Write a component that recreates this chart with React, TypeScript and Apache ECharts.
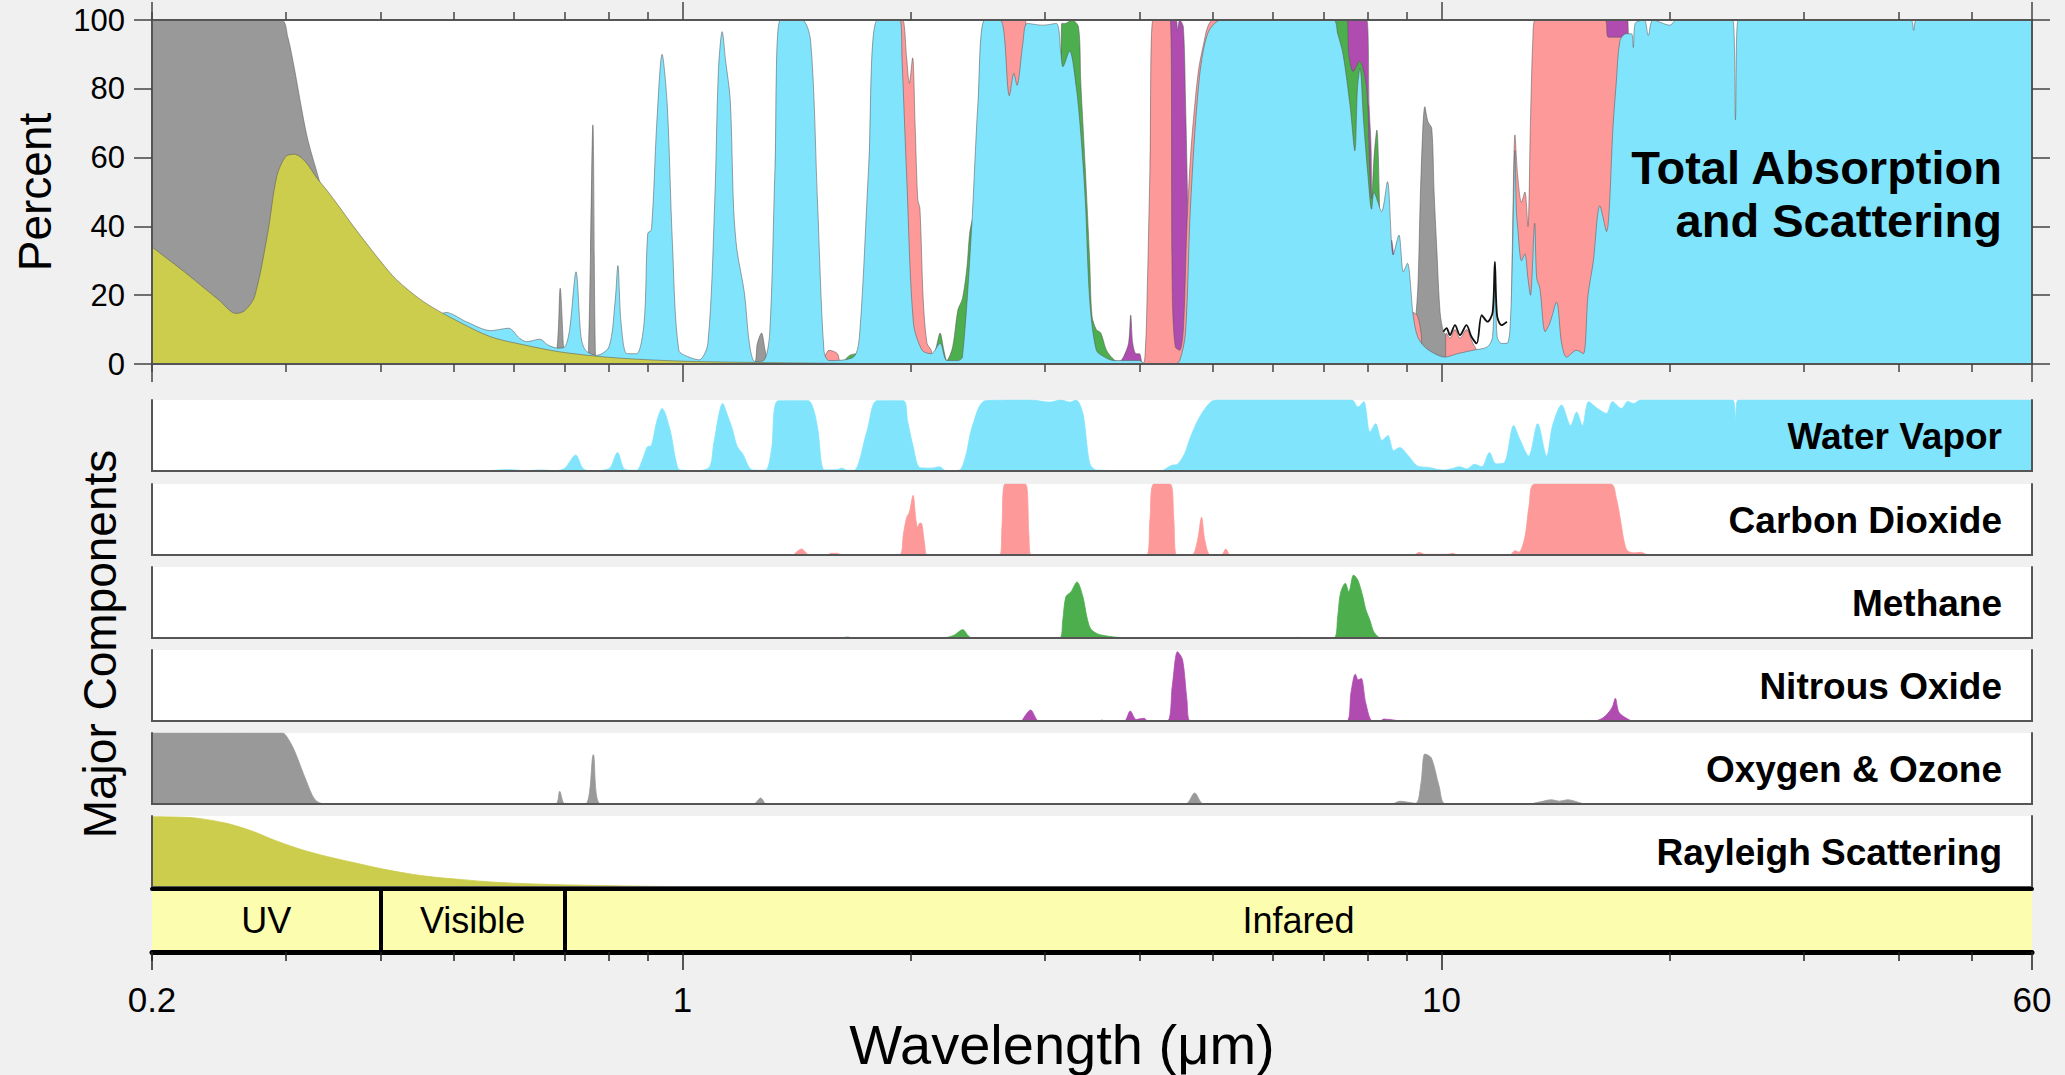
import React, { useEffect, useRef } from "react";
import * as echarts from "echarts";

type Pt = [number, number];

// ---------- axis values ----------
const X_MIN = 0.2;
const X_MAX = 60;
const minorTickValues = [0.2, 0.3, 0.4, 0.5, 0.6, 0.7, 0.8, 0.9, 2, 3, 4, 5, 6, 7, 8, 9, 20, 30, 40, 50];
const majorTickValues = [0.2, 1, 10, 60];
const tickLabelValues = [0.2, 1, 10, 60];
const percentMin = 0;
const percentMax = 100;
const percentStep = 20;

const bandEdges = [0.2, 0.4, 0.7, 60];
const bandNames = ["UV", "Visible", "Infared"];

const panelNames = ["Water Vapor", "Carbon Dioxide", "Methane", "Nitrous Oxide", "Oxygen & Ozone", "Rayleigh Scattering"];

// ---------- top panel: cumulative boundaries (wavelength µm, percent) ----------
const totalOxygenOzone: Pt[] = [[0.2,100],[0.296,100],[0.302,95],[0.308,86],[0.315,74],[0.321,65],[0.334,51.5],[0.34,44],[0.36,30],[0.4,0],[0.67,0],[0.683,4],[0.69,22],[0.697,5],[0.7,0],[0.745,0],[0.752,5],[0.762,69.5],[0.768,2],[0.775,0],[1.24,0],[1.255,6],[1.271,9],[1.285,4],[1.3,0],[9.1,0],[9.27,16],[9.32,25],[9.4,55],[9.51,74.8],[9.6,70.4],[9.71,68.5],[9.78,50],[9.86,33.6],[9.96,15],[10.06,9.4],[10.16,8],[10.3,0]];

const totalNitrous: Pt[] = [[3.75,0],[3.81,2],[3.87,6],[3.896,14.2],[3.92,6],[3.96,3],[4.0,3],[4.05,0],[4.36,0],[4.38,100],[4.47,100],[4.49,97],[4.52,100],[4.57,98],[4.6,77],[4.63,46],[4.65,0],[7.4,0],[7.45,100],[7.97,100],[8.03,75],[8.08,62],[8.12,0],[8.55,0],[8.6,36],[8.66,30],[8.72,0],[16.4,0],[16.5,100],[17.6,100],[17.7,0]];

const totalMethane: Pt[] = [[1.62,0],[1.66,2.5],[1.7,3],[1.72,0],[2.127,0],[2.16,5],[2.185,9],[2.21,4],[2.23,1],[2.27,5],[2.306,15.7],[2.338,19],[2.37,28],[2.39,38],[2.41,42],[2.43,0],[3.14,0],[3.16,99],[3.194,99],[3.258,100],[3.325,98],[3.348,82],[3.394,57],[3.44,30],[3.464,14],[3.51,10],[3.558,9],[3.62,4],[3.706,1.2],[3.8,0],[7.15,0],[7.2,100],[7.5,100],[7.55,90],[7.65,85],[7.8,88],[7.97,80],[8.05,55],[8.09,48],[8.15,60],[8.22,68],[8.28,50],[8.34,0]];

const totalCarbon: Pt[] = [[1.53,0],[1.56,4],[1.6,3],[1.62,0],[1.9,0],[1.92,100],[1.95,100],[1.974,89],[1.99,81.6],[2.01,89],[2.025,70],[2.042,47.7],[2.055,45.3],[2.076,18.6],[2.1,6],[2.127,4],[2.15,0],[2.55,0],[2.58,100],[2.83,100],[2.86,0],[4.03,0],[4.07,3],[4.1,25],[4.13,57],[4.17,100],[4.39,100],[4.42,20],[4.46,5],[4.52,4],[4.57,10],[4.62,40],[4.67,60],[4.73,75],[4.79,86],[4.86,93],[4.92,98],[5.0,100],[5.13,100],[5.2,0],[9.1,0],[9.18,15],[9.3,14],[9.4,9],[9.5,0],[10.1,0],[10.15,9],[10.26,7.5],[10.42,10],[10.58,7.5],[10.79,10],[11.0,6],[11.13,4],[11.3,0],[12.3,0],[12.4,33.6],[12.5,66.6],[12.6,55],[12.75,47],[12.88,50],[13.0,40],[13.1,70],[13.2,95],[13.3,100],[16.4,100],[16.6,95],[17.4,95],[17.6,0]];

const totalWater: Pt[] = [[0.45,0],[0.47,12],[0.488,15],[0.52,12.2],[0.559,9.7],[0.59,10.4],[0.61,7.5],[0.623,6.5],[0.649,7.2],[0.665,5.5],[0.686,4.6],[0.7,5],[0.71,10],[0.724,26.8],[0.735,8],[0.745,4],[0.77,2.5],[0.8,5],[0.815,18],[0.822,28.6],[0.83,12],[0.845,3],[0.87,3],[0.89,12],[0.9,38],[0.91,39],[0.925,70],[0.94,90],[0.955,75],[0.97,35],[0.989,4],[1.02,2],[1.052,1.2],[1.08,6],[1.103,47.7],[1.115,85],[1.128,96.6],[1.14,88],[1.156,76.7],[1.168,45],[1.18,33],[1.207,20.5],[1.225,6],[1.246,0.7],[1.28,1],[1.303,9],[1.324,57],[1.346,100],[1.436,100],[1.475,94],[1.506,47.7],[1.536,4],[1.56,1],[1.68,2],[1.712,9],[1.759,57],[1.808,100],[1.934,100],[1.947,88],[1.974,55],[2.015,12],[2.069,4],[2.127,3],[2.185,6],[2.23,1],[2.306,1],[2.338,2],[2.402,38],[2.452,76.7],[2.503,100],[2.623,100],[2.696,78],[2.733,84.5],[2.759,81],[2.808,93],[2.846,99],[2.984,98.5],[3.108,99],[3.15,91],[3.172,86.4],[3.236,91],[3.302,80.6],[3.348,67],[3.394,47.7],[3.44,18.6],[3.51,4],[3.6,2],[3.7,1],[4.0,1],[4.07,0],[4.45,0],[4.52,1],[4.6,9],[4.67,45.7],[4.79,81.6],[4.92,96],[5.13,100],[7.2,100],[7.3,96],[7.42,90],[7.58,75],[7.69,62],[7.75,80],[7.81,86],[7.9,70],[8.0,55],[8.09,45],[8.15,50],[8.22,48],[8.34,44.3],[8.49,53],[8.64,31.7],[8.79,37.5],[8.91,26.8],[9.02,29.3],[9.18,14],[9.3,8],[9.5,5],[9.8,3],[10.1,2],[10.5,3],[11.0,4],[11.5,5],[11.68,8],[11.76,29.7],[11.84,8],[12.0,6],[12.2,6],[12.31,10],[12.4,30],[12.5,62],[12.55,45],[12.6,40],[12.75,30],[12.88,32],[13.0,25],[13.1,20],[13.27,40.9],[13.35,25],[13.48,22],[13.7,9.4],[13.9,12],[14.18,18],[14.4,6],[14.62,2],[15.07,4],[15.38,3],[15.6,20],[15.85,29.7],[16.17,46],[16.5,38.5],[16.84,70],[17.0,82],[17.19,94],[17.5,96],[17.8,96],[17.9,92],[18.0,99],[18.5,100],[18.73,95.5],[19.0,100],[20.0,98.5],[20.4,100],[24.2,100],[24.4,71],[24.6,100],[41.5,100],[41.9,97],[42.3,100],[60,100]];

const totalRayleigh: Pt[] = [[0.2,34],[0.22,27],[0.245,18.6],[0.258,14.7],[0.265,15.5],[0.273,19.6],[0.284,37.8],[0.292,54.5],[0.3,60.3],[0.308,61],[0.318,59],[0.33,54],[0.34,50.5],[0.353,45.7],[0.37,39.5],[0.399,30.2],[0.42,24.5],[0.456,18.1],[0.5,13],[0.559,7.9],[0.62,5.5],[0.686,3.6],[0.76,2.4],[0.84,1.6],[0.95,1],[1.05,0.7],[1.3,0.4],[1.6,0.2],[2.0,0]];

const totalOutline: Pt[] = [[10.06,9.4],[10.16,10.4],[10.26,8.4],[10.42,11.3],[10.58,8.4],[10.79,11.3],[10.95,8],[11.13,6],[11.3,14.2],[11.5,12.3],[11.68,15],[11.76,29.7],[11.84,14],[12.0,11.3],[12.2,12.3]];

// ---------- individual components (percent) ----------
const waterVapor: Pt[] = [[0.55,0],[0.59,2],[0.62,0.5],[0.65,1.5],[0.68,0.5],[0.7,4],[0.723,22.5],[0.74,3],[0.76,0.5],[0.8,3],[0.821,26],[0.84,2],[0.87,1],[0.885,15],[0.899,34],[0.91,36],[0.925,70],[0.94,88],[0.963,58],[0.98,15],[0.992,1.5],[1.05,0.5],[1.086,6],[1.1,40],[1.13,95],[1.145,80],[1.164,58],[1.18,35],[1.199,25],[1.236,1.5],[1.286,1],[1.31,30],[1.338,99],[1.464,99],[1.49,85],[1.508,58],[1.539,1.5],[1.6,2],[1.62,4],[1.65,1],[1.683,1],[1.752,58],[1.805,99],[1.954,99],[1.98,70],[2.014,34],[2.054,5],[2.13,4],[2.18,6],[2.224,0.5],[2.314,1],[2.36,20],[2.408,62],[2.508,99],[2.87,100],[3.05,97],[3.15,100],[3.24,97],[3.3,100],[3.37,81],[3.44,11],[3.51,1.4],[4.26,0],[4.41,8],[4.49,9.5],[4.59,25],[4.66,45],[4.79,74],[4.97,97.6],[5.11,100],[7.62,100],[7.76,90],[7.9,97.6],[8.05,54.8],[8.19,66.7],[8.35,42.9],[8.5,50],[8.65,28.6],[8.81,33],[9.05,21],[9.3,7],[9.65,4.8],[9.9,2],[10.1,1.4],[10.3,3],[10.57,6],[10.8,3],[11.06,9.5],[11.3,6],[11.57,26],[11.8,10],[12.11,12],[12.45,64],[12.68,45],[13.03,21],[13.39,66.7],[13.76,21],[14.01,64],[14.4,93],[14.8,64],[15.07,83],[15.34,64],[15.63,97.6],[16.06,88],[16.5,81],[16.8,97.6],[17.27,88],[17.6,98],[17.91,95],[18.3,100],[24.2,100],[24.4,74],[24.6,100],[60,100]];

const carbonDioxide: Pt[] = [[1.4,0],[1.435,8.5],[1.47,0],[1.55,0],[1.57,2.4],[1.6,2.4],[1.62,0],[1.93,0],[1.955,30],[1.974,53],[1.99,60],[2.013,84],[2.03,50],[2.042,39],[2.055,45],[2.067,44],[2.085,15],[2.104,0],[2.62,0],[2.636,40],[2.661,100],[2.83,100],[2.86,30],[2.88,0],[4.09,0],[4.13,50],[4.18,100],[4.39,100],[4.44,50],[4.48,0],[4.69,0],[4.77,20],[4.83,53],[4.88,20],[4.96,0],[5.13,0],[5.2,8.5],[5.27,0],[9.2,0],[9.35,3.8],[9.5,1],[10.2,1],[10.34,2.4],[10.5,0],[12.3,0],[12.5,6],[12.65,4],[12.88,25],[13.05,70],[13.27,100],[16.72,100],[17.0,80],[17.22,48.6],[17.4,20],[17.58,6],[18.0,3],[18.3,3.8],[18.67,0]];

const methane: Pt[] = [[1.62,0],[1.65,1.4],[1.68,0],[2.2,0],[2.28,4],[2.34,11.8],[2.38,3],[2.41,0],[3.14,0],[3.17,25],[3.2,58],[3.25,65],[3.31,79],[3.37,58],[3.41,30],[3.45,13],[3.52,6],[3.58,3.8],[3.7,1.5],[3.84,0],[6.4,0],[6.46,1],[6.55,0],[7.21,0],[7.3,30],[7.36,62.7],[7.47,77],[7.55,65],[7.66,88.7],[7.76,81.6],[7.88,58],[7.95,40],[8.05,25],[8.15,8],[8.29,0]];

const nitrousOxide: Pt[] = [[2.8,0],[2.876,15.5],[2.95,0],[3.55,0],[3.57,1.4],[3.6,0],[3.82,0],[3.89,14],[3.96,2],[4.0,3],[4.06,3.8],[4.1,0],[4.35,0],[4.42,50],[4.49,97.7],[4.56,86],[4.62,30],[4.67,0],[7.5,0],[7.6,40],[7.7,66],[7.77,58],[7.84,60],[7.95,25],[8.11,0],[8.3,0],[8.4,2.8],[8.7,1],[8.8,0],[15.9,0],[16.3,4],[16.57,10.8],[16.8,20],[16.95,32],[17.12,13],[17.4,6],[17.81,0]];

const oxygenOzone: Pt[] = [[0.2,100],[0.297,100],[0.303,90],[0.309,72],[0.319,34],[0.328,6],[0.338,0],[0.68,0],[0.689,17.8],[0.7,0],[0.745,0],[0.763,69.5],[0.78,0],[1.24,0],[1.268,8.5],[1.29,0],[4.6,0],[4.73,15.5],[4.86,0],[8.6,0],[8.81,3.8],[9.25,1],[9.4,30],[9.51,70.4],[9.7,64.8],[9.93,25],[10.13,0],[13.0,0],[13.5,3],[13.96,6],[14.3,4],[14.67,6],[15.3,1],[15.5,0]];

const rayleigh: Pt[] = [[0.2,99],[0.215,98.5],[0.229,97],[0.25,90],[0.269,80],[0.29,66],[0.315,52.6],[0.34,43],[0.37,34],[0.4,26],[0.434,19],[0.47,14],[0.509,10.7],[0.56,7],[0.621,4.7],[0.69,3.2],[0.759,2.3],[0.84,1.5],[0.926,0.9],[1.05,0.4],[1.2,0.1],[1.5,0]];

// ---------- styling ----------
const FONT = '"Liberation Sans", Arial, Helvetica, sans-serif';
const C_WATER = "#80e4fc";
const C_CO2 = "#fe9999";
const C_CH4 = "#4cae4c";
const C_N2O = "#b04bb0";
const C_O3 = "#999999";
const C_RAY = "#cccc4d";
const C_BAND = "#fdfdb0";
const FRAME = "#555555";
const TICK = "#444444";

const PL = 152;
const PW = 1880;
const TOP_Y = 20;
const TOP_H = 344;
const subTops = [400, 484, 567, 650, 733, 816];
const SUB_H = 71;
const BAND_Y = 889;
const BAND_H = 63;
const SMOOTH = 0.3;

function buildOption() {
  const grid: any[] = [];
  grid.push({ left: PL, top: TOP_Y, width: PW, height: TOP_H, show: true, backgroundColor: "#fff", borderWidth: 0, outerBoundsMode: "none" });
  subTops.forEach((t) => grid.push({ left: PL, top: t, width: PW, height: SUB_H, show: true, backgroundColor: "#fff", borderWidth: 0, outerBoundsMode: "none" }));
  grid.push({ left: PL, top: BAND_Y, width: PW, height: BAND_H, show: false, outerBoundsMode: "none" });
  const bandGrid = grid.length - 1;

  const xAxis: any[] = [];
  const yAxis: any[] = [];
  const addX = (gridIndex: number, position: string, line: any, tick: any, label: any) => {
    xAxis.push({
      type: "log", logBase: 10, min: X_MIN, max: X_MAX, gridIndex, position, z: 10,
      splitLine: { show: false },
      axisLine: line ? { show: true, lineStyle: line } : { show: false },
      axisTick: tick ? { show: true, inside: false, alignWithLabel: false, ...tick } : { show: false },
      axisLabel: label ? label : { show: false },
    });
    return xAxis.length - 1;
  };
  const addY = (gridIndex: number, position: string, cfg: any) => {
    yAxis.push({ type: "value", gridIndex, position, z: 10, splitLine: { show: false }, ...cfg });
    return yAxis.length - 1;
  };

  const frameLine = { color: FRAME, width: 2 };
  const tickLine = { color: TICK, width: 1.5 };

  // top panel axes
  const xTop = addX(0, "bottom", frameLine, { length: 8, customValues: minorTickValues, lineStyle: tickLine }, null);
  addX(0, "bottom", null, { length: 18, customValues: majorTickValues, lineStyle: tickLine }, null);
  addX(0, "top", frameLine, { length: 8, customValues: minorTickValues, lineStyle: tickLine }, null);
  addX(0, "top", null, { length: 18, customValues: majorTickValues, lineStyle: tickLine }, null);
  const yTop = addY(0, "left", {
    min: percentMin, max: percentMax, interval: percentStep,
    axisLine: { show: true, lineStyle: frameLine },
    axisTick: { show: true, inside: false, length: 18, lineStyle: tickLine },
    axisLabel: { show: true, fontSize: 31, margin: 27, color: "#000", fontFamily: FONT },
  });
  addY(0, "right", {
    min: percentMin, max: percentMax, interval: percentStep,
    axisLine: { show: true, lineStyle: frameLine },
    axisTick: { show: true, inside: false, length: 18, lineStyle: tickLine },
    axisLabel: { show: false },
  });

  // sub panels
  const subX: number[] = [];
  const subY: number[] = [];
  subTops.forEach((_, i) => {
    const g = i + 1;
    subX.push(addX(g, "bottom", frameLine, null, null));
    addX(g, "top", frameLine, null, null);
    subY.push(addY(g, "left", { min: 0, max: 100, axisLine: { show: true, lineStyle: frameLine }, axisTick: { show: false }, axisLabel: { show: false } }));
    addY(g, "right", { min: 0, max: 100, axisLine: { show: true, lineStyle: frameLine }, axisTick: { show: false }, axisLabel: { show: false } });
  });

  // band strip axes
  const xBand = addX(bandGrid, "bottom", { color: "#000", width: 5 }, { length: 9, customValues: minorTickValues, lineStyle: { color: "#222", width: 1.5 } }, null);
  addX(bandGrid, "bottom", null, { length: 18, customValues: majorTickValues, lineStyle: { color: "#222", width: 1.5 } }, {
    show: true, customValues: tickLabelValues, fontSize: 35, margin: 30, color: "#000", fontFamily: FONT,
    formatter: (v: number) => String(Number(Number(v).toPrecision(6))),
  });
  addX(bandGrid, "top", { color: "#000", width: 4 }, null, null);
  const yBand = addY(bandGrid, "left", { min: 0, max: 1, show: false });

  const area = (name: string, data: Pt[], color: string, xi: number, yi: number, z: number, outline: string | null) => ({
    name, type: "line", data, xAxisIndex: xi, yAxisIndex: yi, z,
    showSymbol: false, symbol: "none", smooth: SMOOTH, clip: true, silent: true,
    lineStyle: outline ? { width: 1, color: outline } : { width: 0.8, color },
    areaStyle: { color, opacity: 1 },
  });

  const outline = "rgba(90,90,90,0.55)";
  const series: any[] = [
    area("O2 & O3 (total)", totalOxygenOzone, C_O3, xTop, yTop, 2, outline),
    area("N2O (total)", totalNitrous, C_N2O, xTop, yTop, 3, outline),
    area("CH4 (total)", totalMethane, C_CH4, xTop, yTop, 4, outline),
    area("CO2 (total)", totalCarbon, C_CO2, xTop, yTop, 5, outline),
    area("H2O (total)", totalWater, C_WATER, xTop, yTop, 6, outline),
    area("Rayleigh (total)", totalRayleigh, C_RAY, xTop, yTop, 7, outline),
    {
      name: "outline", type: "line", data: totalOutline, xAxisIndex: xTop, yAxisIndex: yTop, z: 8,
      showSymbol: false, symbol: "none", smooth: SMOOTH, silent: true, lineStyle: { color: "#111", width: 1.8 },
    },
  ];

  const subData = [waterVapor, carbonDioxide, methane, nitrousOxide, oxygenOzone, rayleigh];
  const subColors = [C_WATER, C_CO2, C_CH4, C_N2O, C_O3, C_RAY];
  subData.forEach((d, i) => series.push(area(panelNames[i], d, subColors[i], subX[i], subY[i], 3, null)));

  series.push({
    name: "bands", type: "line", xAxisIndex: xBand, yAxisIndex: yBand, z: 2, silent: true,
    data: [[X_MIN, 0], [X_MAX, 0]], showSymbol: false, symbol: "none", lineStyle: { opacity: 0 },
    markArea: {
      silent: true,
      itemStyle: { color: C_BAND, borderWidth: 0 },
      label: { show: true, position: "inside", color: "#000", fontSize: 36, fontFamily: FONT },
      data: bandNames.map((n, i) => [{ name: n, xAxis: bandEdges[i], yAxis: 0 }, { xAxis: bandEdges[i + 1], yAxis: 1 }]),
    },
    markLine: {
      silent: true, symbol: "none", animation: false,
      lineStyle: { color: "#000", width: 4, type: "solid" },
      label: { show: false },
      data: bandEdges.slice(1, -1).map((v) => ({ xAxis: v })),
    },
  });

  const txt = (text: string, x: number, y: number, size: number, opts: any = {}) => ({
    type: "text", x, y, z: 100, rotation: opts.rotation || 0, silent: true,
    style: {
      text, fontSize: size, fontFamily: FONT, fontWeight: opts.bold ? "bold" : "normal", fill: "#000",
      textAlign: opts.align || "center", textVerticalAlign: "middle",
    },
  });

  const graphic: any[] = [
    txt("Percent", 35, 192, 46, { rotation: Math.PI / 2 }),
    txt("Major Components", 100, 644, 46, { rotation: Math.PI / 2 }),
    txt("Wavelength (\u03bcm)", 1062, 1044, 56),
    txt("Total Absorption", 2002, 167, 47, { bold: true, align: "right" }),
    txt("and Scattering", 2002, 220, 47, { bold: true, align: "right" }),
    ...panelNames.map((n, i) => txt(n, 2002, subTops[i] + 36, 37, { bold: true, align: "right" })),
  ];

  return {
    animation: false,
    backgroundColor: "#f0f0f0",
    grid, xAxis, yAxis, series, graphic,
  };
}

export default function App() {
  const ref = useRef<HTMLDivElement>(null);
  useEffect(() => {
    if (!ref.current) return;
    const chart = echarts.init(ref.current, undefined, { renderer: "svg", width: 2065, height: 1075 });
    chart.setOption(buildOption() as any);
    return () => chart.dispose();
  }, []);
  return <div ref={ref} style={{ position: "fixed", left: 0, top: 0, width: 2065, height: 1075 }} />;
}
